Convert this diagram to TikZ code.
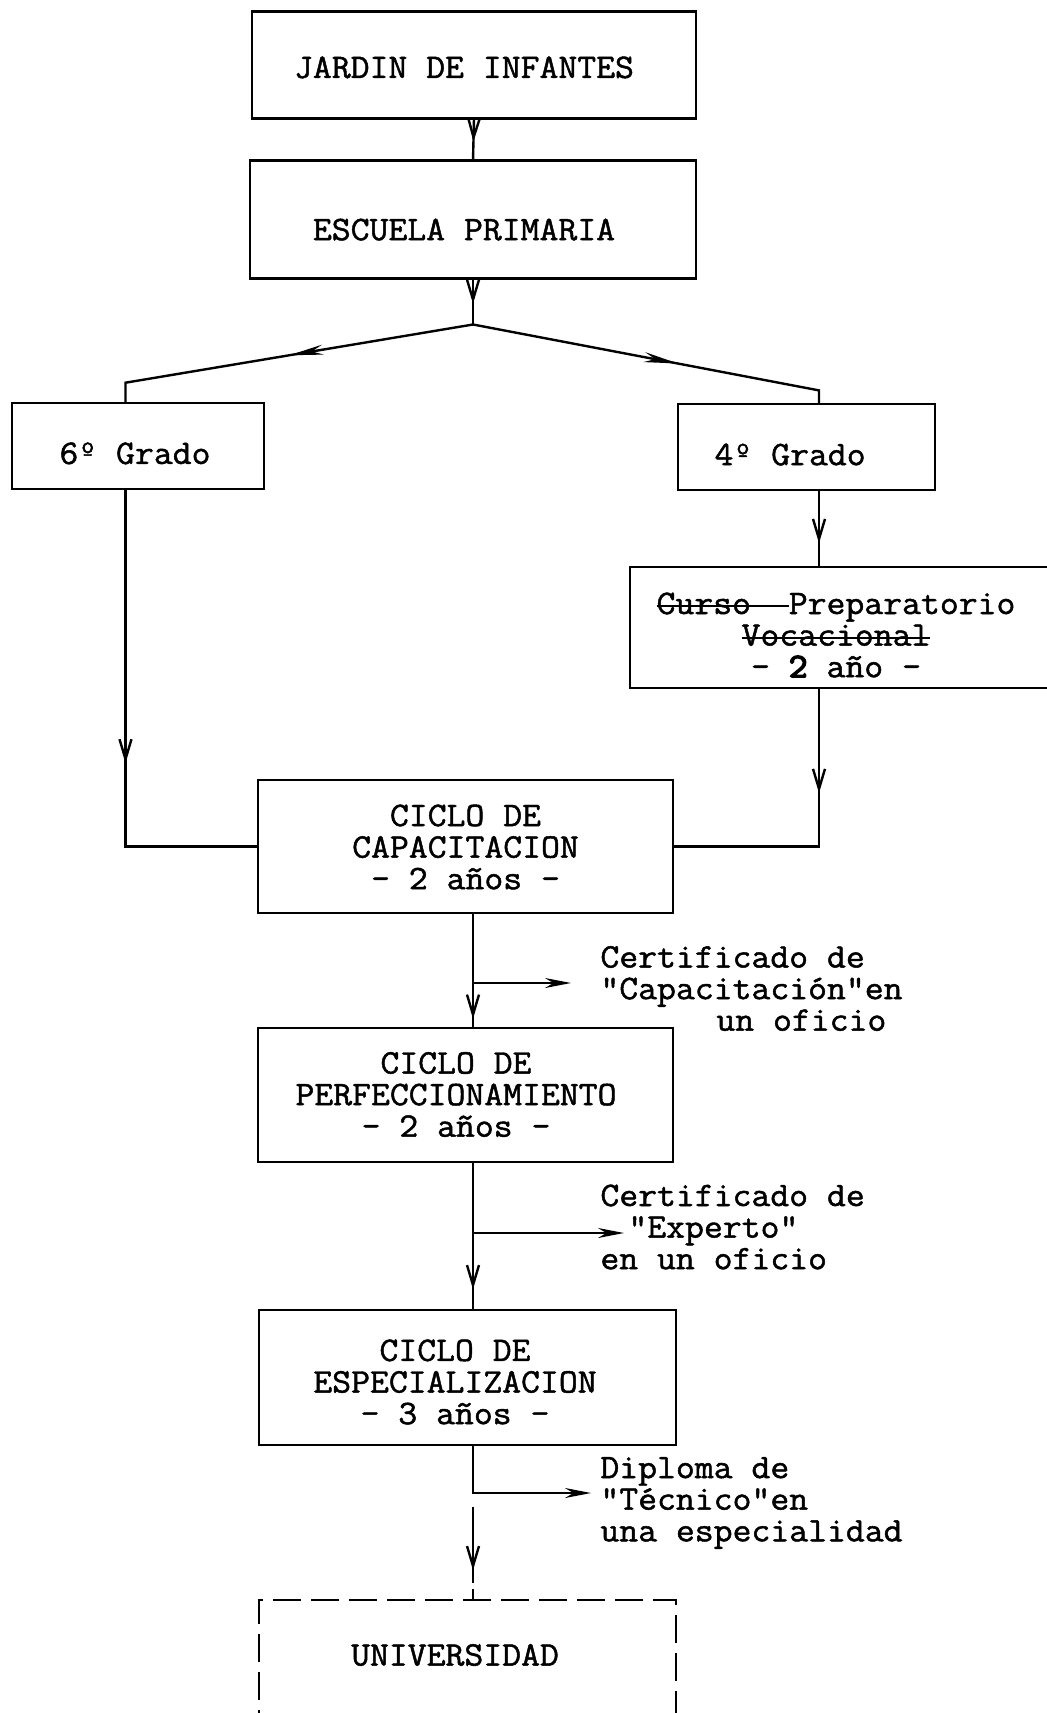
\documentclass[tikz,border=0pt]{standalone}
\usepackage{fontspec}
\setmonofont[FakeBold=1.4,FakeStretch=1.066]{Latin Modern Mono}
\newfontfamily\heavytt[FakeBold=4,FakeStretch=1.066]{Latin Modern Mono}
\usetikzlibrary{arrows.meta,decorations.markings}
\newcommand\mv[3]{\raisebox{-#2}[\height][\depth]{\makebox[0pt]{\kern#1\relax#3\kern-#1\relax}}}
\newcommand\strk[1]{\sbox0{#1}\rlap{\usebox0}\rule[0.2em]{\wd0}{0.9pt}}
\newcommand\cstk[1]{\vbox{\baselineskip=15.8pt\lineskiplimit=-20pt\halign{\hfil##\hfil\cr#1\crcr}}}
\newcommand\lstk[1]{\vbox{\baselineskip=15.8pt\lineskiplimit=-20pt\halign{##\hfil\cr#1\crcr}}}
\begin{document}
\begin{tikzpicture}[x=0.5pt,y=-0.5pt,
  every node/.style={font=\ttfamily\fontsize{17.2}{15.8}\selectfont},
  box/.style={draw, line width=1.2pt, inner sep=0pt, outer sep=0pt},
  dbox/.style={box, dash pattern=on 14pt off 5pt},
  conn/.style={line width=1.2pt},
  midv/.style={postaction={decorate, decoration={markings, mark=at position #1 with {\arrow{Straight Barb[length=10pt,width=6pt,line width=1.2pt]}}}}},
  midd/.style={postaction={decorate, decoration={markings, mark=at position #1 with {\arrow{Stealth[length=17pt,width=5pt]}}}}},
  endarr/.style={-{Stealth[length=13pt,width=5pt]}},
  lbl/.style={anchor=west, inner sep=0pt}
]
\fill[white] (0,0) rectangle (1047,1713);
\useasboundingbox (0,0) rectangle (1047,1713);
\clip (0,0) rectangle (1047,1713);

% boxes
\node[box, minimum width=222pt, minimum height=53.5pt] (jardin) at (474,65) {\mv{-5pt}{1.2pt}{JARDIN DE INFANTES}};
\node[box, minimum width=223pt, minimum height=59pt] (escuela) at (473,219.6) {\mv{-4.5pt}{5pt}{ESCUELA PRIMARIA}};
\node[box, minimum width=126pt, minimum height=43pt] (g6) at (138,446) {\mv{-1.5pt}{3.7pt}{6º Grado}};
\node[box, minimum width=128.5pt, minimum height=43pt] (g4) at (806.5,447) {\mv{-8.2pt}{3.8pt}{4º Grado}};
\node[box, minimum width=210pt, minimum height=60.5pt] (curso) at (840,627.5) {\mv{-2pt}{3.75pt}{\cstk{\strk{Curso\phantom{xx}}Preparatorio\cr\strk{Vocacional}\cr- {\heavytt 2} año -}}};
\node[box, minimum width=207.5pt, minimum height=66.5pt] (cap) at (465.5,846.5) {\mv{0pt}{0.25pt}{\cstk{CICLO DE\cr CAPACITACION\cr- 2 años -}}};
\node[box, minimum width=207.5pt, minimum height=67pt] (perf) at (465.5,1095) {\mv{-4.75pt}{-0.25pt}{\cstk{CICLO DE\cr PERFECCIONAMIENTO\cr- 2 años -}}};
\node[box, minimum width=208.5pt, minimum height=67.5pt] (espec) at (467.5,1377.5) {\mv{-6.25pt}{2.25pt}{\cstk{CICLO DE\cr ESPECIALIZACION\cr- 3 años -}}};
\node[dbox, minimum width=208.5pt, minimum height=60pt] (univ) at (467.5,1660) {\mv{-6.25pt}{-2.5pt}{UNIVERSIDAD}};

% labels
\node[lbl] (l1) at (600,988.5) {\lstk{Certificado de\cr"Capacitación"en\cr\hspace*{58pt}un oficio}};
\node[lbl] (l2) at (600,1227) {\lstk{Certificado de\cr\hspace*{14pt}"Experto"\cr en un oficio}};
\node[lbl] (l3) at (600,1503) {\lstk{Diploma de\cr"Técnico"en\cr una especialidad}};

% coordinates
\coordinate (trunk) at (473,0);
\coordinate (apex) at (473,324.5);
\coordinate (lc) at (125.5,382.7);
\coordinate (rc) at (819,390.4);
\coordinate (b1) at (473,983);
\coordinate (e1) at (571,983);
\coordinate (b2) at (473,1233);
\coordinate (e2) at (624,1233);
\coordinate (e3) at (591,1493);
\coordinate (d0) at (473,1507);

% connectors
\draw[conn, midv=0.55] (jardin.south) -- (escuela.north);
\draw[conn, midv=0.55] (escuela.south -| trunk) -- (apex);
\draw[conn, midd=0.5] (apex) -- (lc) -- (lc |- g6.north);
\draw[conn, midd=0.57] (apex) -- (rc) -- (rc |- g4.north);
\draw[conn, midv=0.69] (g4.south -| rc) -- (curso.north -| rc);
\draw[conn, midv=0.56] (g6.south -| lc) |- (cap.west);
\draw[conn, midv=0.345] (curso.south -| rc) |- (cap.east);
\draw[conn, midv=0.92] (cap.south -| trunk) -- (perf.north -| trunk);
\draw[conn, endarr] (b1) -- (e1);
\draw[conn, midv=0.86] (perf.south -| trunk) -- (espec.north -| trunk);
\draw[conn, endarr] (b2) -- (e2);
\draw[conn, endarr] (espec.south -| trunk) |- (e3);
\draw[conn, dash pattern=on 38pt off 3pt, midv=0.68] (d0) -- (univ.north -| trunk);
\end{tikzpicture}
\end{document}
